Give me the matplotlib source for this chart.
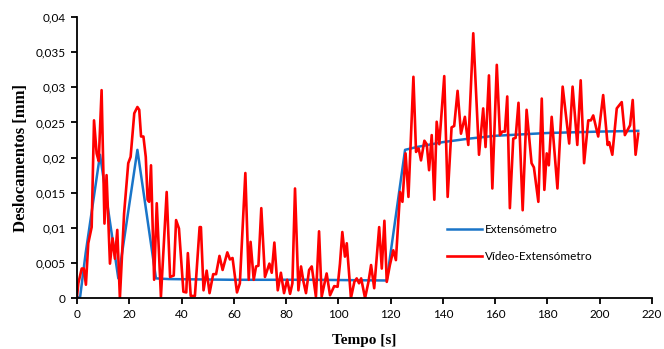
import matplotlib
matplotlib.use("Agg")
import matplotlib.pyplot as plt
from matplotlib.ticker import FuncFormatter, MultipleLocator

# Extensómetro (curva de referência)
t_ext = [0, 1.2, 3.3, 8.8, 15.8, 23.1, 30.2, 35, 60, 90, 118.5, 125.5,
         130, 140, 150, 160, 170, 180, 190, 200, 214.7]
d_ext = [0, 0.0002, 0.0064, 0.0204, 0.0028, 0.0211, 0.0028, 0.0027, 0.0026,
         0.0026, 0.0025, 0.0211, 0.0215, 0.0222, 0.0227, 0.0231, 0.0233,
         0.0235, 0.0236, 0.0237, 0.0238]

# Vídeo-Extensómetro
t_vid = [0, 0.5, 1.8, 2.6, 3.4, 4.3, 5.6, 6.5, 7.5, 8.3, 9.4, 10.5, 11.3, 12.6,
         13.6, 14.5, 15.4, 16.4, 18, 19.6, 20.5, 21.9, 23.1, 23.8, 24.5, 25.4,
         26.3, 27.0, 27.6, 28.3, 29.5, 30.5, 32.1, 34.3, 35.6, 37.0, 37.9, 39.0,
         40.7, 41.8, 42.4, 43.5, 45.1, 46.9, 47.4, 48.4, 49.6, 50.7, 52.1, 53.2,
         54.5, 55.7, 57.5, 58.5, 59.5, 61.2, 62.3, 64.4, 65.7, 66.4, 67.6, 68.5,
         69.4, 70.5, 71.9, 73.6, 74.5, 75.5, 76.8, 78.0, 79.2, 80.4, 81.5, 82.4,
         83.4, 84.7, 85.7, 86.6, 87.6, 88.8, 89.8, 91.4, 92.6, 93.6, 95.5, 96.8,
         98.4, 99.7, 100.6, 101.5, 102.5, 103.2, 104.8, 106.1, 107.0, 107.9,
         108.7, 110.2, 111.5, 112.5, 113.7, 115.6, 116.6, 117.6, 118.5, 119.7,
         121.0, 122.0, 123.6, 124.5, 125.7, 126.8, 128.7, 129.7, 130.7, 131.6,
         132.9, 133.8, 134.7, 135.7, 136.7, 137.6, 138.6, 140.5, 141.8, 143.3,
         144.3, 145.6, 146.9, 148.4, 149.7, 151.6, 153.8, 155.4, 156.3, 157.6,
         158.9, 160.6, 161.8, 162.7, 163.7, 164.6, 165.6, 166.9, 167.8, 168.9,
         170.5, 172.0, 173.9, 174.8, 176.5, 177.8, 178.8, 179.7, 180.5, 181.6,
         183.8, 185.8, 188.3, 189.6, 191.4, 192.7, 194.0, 195.6, 196.6, 197.5,
         199.4, 201.3, 203.0, 203.6, 204.8, 206.5, 208.4, 209.6, 211.6, 212.6,
         213.7, 214.7]
d_vid = [0.0002, 0.0021, 0.0042, 0.0042, 0.0019, 0.0078, 0.0101, 0.0253, 0.0206,
         0.0195, 0.0296, 0.0106, 0.0175, 0.0049, 0.0085, 0.0056, 0.0097, 0.0,
         0.012, 0.0192, 0.0201, 0.0263, 0.0272, 0.0268, 0.023, 0.023, 0.0201,
         0.014, 0.0137, 0.0189, 0.0026, 0.0135, 0.0002, 0.0151, 0.003, 0.0032,
         0.0111, 0.0099, 0.0009, 0.0008, 0.0064, 0.0003, 0.0003, 0.0101, 0.0101,
         0.0011, 0.0039, 0.0007, 0.0034, 0.0034, 0.006, 0.004, 0.0065, 0.0055,
         0.0057, 0.0008, 0.0021, 0.0178, 0.0026, 0.008, 0.0026, 0.0045, 0.0046,
         0.0128, 0.003, 0.0049, 0.0036, 0.0079, 0.0011, 0.0036, 0.0007, 0.0026,
         0.0006, 0.0021, 0.0156, 0.0011, 0.0045, 0.0024, 0.0007, 0.004, 0.0045,
         0.0002, 0.0095, 0.0002, 0.0035, 0.0004, 0.0017, 0.0016, 0.0049, 0.0094,
         0.0059, 0.0078, 0.0, 0.0023, 0.0028, 0.0021, 0.0028, 0.0, 0.0023,
         0.0047, 0.0014, 0.0101, 0.0042, 0.011, 0.0023, 0.0047, 0.0068, 0.0054,
         0.0151, 0.0137, 0.0206, 0.0144, 0.0315, 0.0208, 0.0213, 0.0196, 0.0224,
         0.0219, 0.0182, 0.0232, 0.014, 0.0251, 0.0219, 0.0316, 0.0144, 0.0243,
         0.0245, 0.0295, 0.0234, 0.0258, 0.0218, 0.0377, 0.0204, 0.027, 0.0215,
         0.0317, 0.0156, 0.0332, 0.0232, 0.0237, 0.0237, 0.0287, 0.0128, 0.0227,
         0.0228, 0.0278, 0.0125, 0.0268, 0.0192, 0.0186, 0.0137, 0.0284, 0.0154,
         0.0206, 0.0189, 0.0258, 0.0156, 0.0301, 0.022, 0.0301, 0.0218, 0.031,
         0.0192, 0.0253, 0.0253, 0.026, 0.023, 0.0289, 0.0218, 0.0222, 0.0204,
         0.027, 0.0279, 0.0232, 0.0246, 0.0282, 0.0204, 0.0234]

x_ticks = list(range(0, 221, 20))

plt.rcParams['font.family'] = ['Lato', 'DejaVu Sans']

fig = plt.figure(figsize=(6.64, 3.49), dpi=100)
ax = fig.add_axes([0.116, 0.146, 0.866, 0.805])

ax.plot(t_ext, d_ext, color='#1a75c8', lw=1.8, label='Extensómetro',
        solid_joinstyle='round')
ax.plot(t_vid, d_vid, color='#ff0000', lw=1.9, label='Vídeo-Extensómetro',
        solid_joinstyle='round')

ax.set_xlim(0, 220)
ax.set_ylim(0, 0.04)
ax.set_xticks(x_ticks)
ax.yaxis.set_major_locator(MultipleLocator(0.005))


def virgula(v, pos):
    if abs(v) < 1e-12:
        return '0'
    return ('%g' % round(v, 4)).replace('.', ',')


ax.yaxis.set_major_formatter(FuncFormatter(virgula))

for s in ['top', 'right']:
    ax.spines[s].set_visible(False)
for s in ['left', 'bottom']:
    ax.spines[s].set_linewidth(1.3)
ax.tick_params(direction='out', length=4, width=1.3, labelsize=8.5, pad=4)

ax.set_xlabel('Tempo [s]', family='Liberation Serif', fontweight='bold',
              fontsize=11, labelpad=10)
ax.set_ylabel('Deslocamentos [mm]', family='Liberation Serif', fontweight='bold',
              fontsize=12, labelpad=5)

ax.legend(loc='upper left', bbox_to_anchor=(0.625, 0.30), frameon=False,
          fontsize=8.5, handlelength=3.0, handletextpad=0.2, labelspacing=1.3)

fig.savefig('out.png', dpi=100)
